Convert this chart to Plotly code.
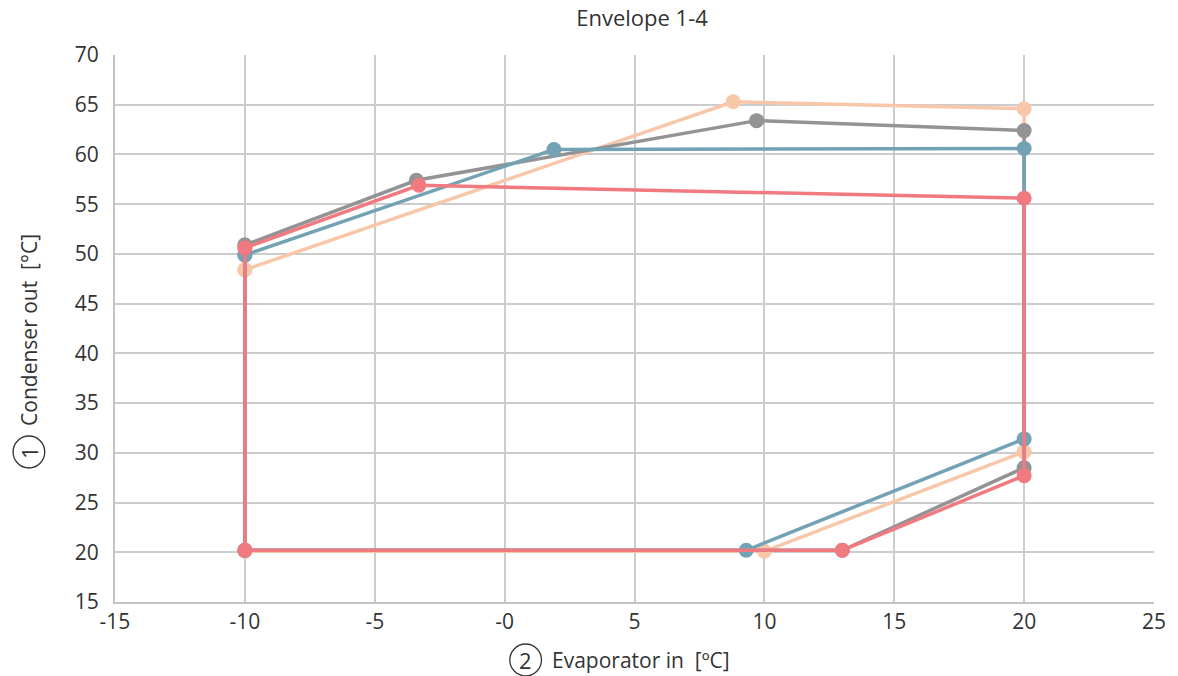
import plotly.graph_objects as go

# Data
gray_x = [-10, -3.4, 9.7, 20, 20, 13, -10, -10]
gray_y = [50.9, 57.4, 63.4, 62.4, 28.5, 20.2, 20.2, 50.9]

peach_x = [-10, 8.8, 20, 20, 10, -10, -10]
peach_y = [48.4, 65.3, 64.6, 30.1, 20.1, 20.1, 48.4]

blue_x = [-10, 1.9, 20, 20, 9.3, -10, -10]
blue_y = [49.9, 60.5, 60.6, 31.4, 20.2, 20.2, 49.9]

red_x = [-10, -3.3, 20, 20, 13, -10, -10]
red_y = [50.6, 56.9, 55.6, 27.7, 20.2, 20.2, 50.6]

x_ticks = [-15, -10, -5, 0, 5, 10, 15, 20, 25]
x_tick_text = ["-15", "-10", "-5", "-0", "5", "10", "15", "20", "25"]
y_ticks = [15, 20, 25, 30, 35, 40, 45, 50, 55, 60, 65, 70]

series = [
    ("peach", peach_x, peach_y, "#f8c6a8"),
    ("gray", gray_x, gray_y, "#939396"),
    ("blue", blue_x, blue_y, "#74a2b5"),
    ("red", red_x, red_y, "#f17a81"),
]

FONT = "Open Sans"
TXT = "#333333"

fig = go.Figure()
for name, xs, ys, col in series:
    fig.add_trace(go.Scatter(
        x=xs, y=ys, mode="lines+markers", name=name,
        line=dict(color=col, width=3.5),
        marker=dict(color=col, size=15),
        showlegend=False,
    ))

W, H = 1178, 676
ml, mr, mt, mb = 115, 13, 55, 74
pw, ph = W - ml - mr, H - mt - mb

def px(x):
    return (x - ml) / pw

def py(y):
    return (H - mb - y) / ph

fig.update_layout(
    width=W, height=H,
    margin=dict(l=ml, r=mr, t=mt, b=mb),
    plot_bgcolor="white", paper_bgcolor="white",
    font=dict(family=FONT, size=21, color=TXT),
    title=dict(text="Envelope 1-4", x=642 / W, xanchor="center",
               xref="container", y=1 - 18 / H, yref="container",
               yanchor="middle", font=dict(size=22, color=TXT, family=FONT)),
    xaxis=dict(range=[-15, 25], tickvals=x_ticks, ticktext=x_tick_text,
               showgrid=True, gridcolor="#cccccc", gridwidth=2,
               showline=True, linecolor="#c4c4c4", linewidth=2,
               zeroline=False, ticks="", tickfont=dict(size=21, color=TXT),
               fixedrange=True),
    yaxis=dict(range=[15, 70], tickvals=y_ticks,
               showgrid=True, gridcolor="#cccccc", gridwidth=2,
               showline=True, linecolor="#c4c4c4", linewidth=2,
               zeroline=False, ticks="", ticklabelstandoff=10,
               tickfont=dict(size=21, color=TXT), fixedrange=True),
    shapes=[
        dict(type="circle", xref="paper", yref="paper",
             x0=px(514), x1=px(546), y0=py(676), y1=py(644),
             line=dict(color="#333333", width=1.3)),
        dict(type="circle", xref="paper", yref="paper",
             x0=px(12), x1=px(44), y0=py(468), y1=py(436),
             line=dict(color="#333333", width=1.3)),
    ],
    annotations=[
        dict(text="2", xref="paper", yref="paper", x=px(530), y=py(660),
             xanchor="center", yanchor="middle", showarrow=False,
             font=dict(size=22, color=TXT)),
        dict(text="Evaporator in  [ºC]", xref="paper", yref="paper",
             x=px(555), y=py(660), xanchor="left", yanchor="middle",
             showarrow=False, font=dict(size=21, color=TXT)),
        dict(text="1", xref="paper", yref="paper", x=px(28), y=py(452),
             xanchor="center", yanchor="middle", showarrow=False,
             textangle=-90, font=dict(size=22, color=TXT)),
        dict(text="Condenser out  [°C]", xref="paper", yref="paper",
             x=px(28), y=py(428), xanchor="center", yanchor="bottom",
             showarrow=False, textangle=-90, font=dict(size=21, color=TXT)),
    ],
)

fig.write_html("out.html", config={"displayModeBar": False},
               post_script="document.body.style.margin='0';document.body.style.padding='0';"
                           "document.documentElement.style.overflow='hidden';")
